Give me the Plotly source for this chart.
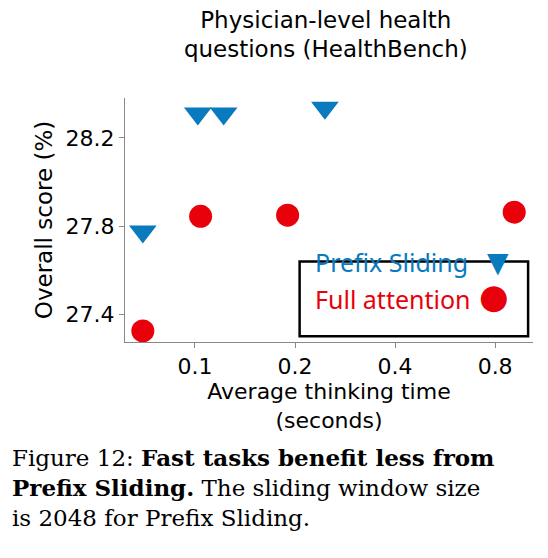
import plotly.graph_objects as go
import math

ps_x = [0.0697, 0.102, 0.122, 0.246]
ps_y = [27.777, 28.31, 28.31, 28.336]
fa_x = [0.0697, 0.104, 0.19, 0.913]
fa_y = [27.327, 27.845, 27.85, 27.864]
xticks = [0.1, 0.2, 0.4, 0.8]
yticks = [27.4, 27.8, 28.2]
blue = "#0a7abf"; red = "#e8000b"

fig = go.Figure()
fig.add_trace(go.Scatter(x=ps_x, y=ps_y, mode="markers", name="Prefix Sliding",
    marker=dict(symbol="triangle-down", size=24, color=blue)))
fig.add_trace(go.Scatter(x=fa_x, y=fa_y, mode="markers", name="Full attention",
    marker=dict(symbol="circle", size=23, color=red)))
fig.update_layout(
    width=548, height=558, showlegend=False, plot_bgcolor="white", paper_bgcolor="white",
    margin=dict(l=117, r=23, t=90, b=224, autoexpand=False),
    font=dict(family="DejaVu Sans", color="black"),
    title=dict(text="Physician-level health<br>questions (HealthBench)", x=0.58, xanchor="center",
               y=0.965, yanchor="top", font=dict(size=23)),
    xaxis=dict(type="log", range=[math.log10(0.0616), math.log10(1.04)], tickvals=xticks,
               ticktext=[str(v) for v in xticks], showgrid=False, showline=True, linecolor="#888",
               ticks="outside", ticklen=5, tickcolor="#888", tickfont=dict(size=22), automargin=False,
               title=dict(text="Average thinking time<br>(seconds)", font=dict(size=22), standoff=2)),
    yaxis=dict(range=[27.277, 28.38], tickvals=yticks, ticktext=[f"{v:.1f}" for v in yticks],
               showgrid=False, showline=True, linecolor="#888", ticks="outside", ticklen=5,
               tickcolor="#888", tickfont=dict(size=22), automargin=False,
               title=dict(text="Overall score (%)", font=dict(size=23), standoff=6)),
)
fig.add_shape(type="rect", xref="paper", yref="paper", x0=0.428, x1=0.988, y0=0.024, y1=0.33,
              line=dict(color="black", width=2.5), fillcolor="rgba(0,0,0,0)", layer="above")
fig.add_annotation(xref="paper", yref="paper", x=0.46, y=0.25, text="Prefix Sliding", showarrow=False,
                   xanchor="left", font=dict(family="Noto Sans", size=25, color=blue))
fig.add_annotation(xref="paper", yref="paper", x=0.46, y=0.1, text="Full attention", showarrow=False,
                   xanchor="left", font=dict(family="Noto Sans", size=25, color=red))
fig.add_annotation(xref="paper", yref="paper", x=0.945, y=0.25, text="▼", showarrow=False,
                   font=dict(size=28, color=blue))
fig.add_annotation(xref="paper", yref="paper", x=0.945, y=0.1, text="●", showarrow=False,
                   font=dict(size=34, color=red))
cap = ("Figure 12: <b>Fast tasks benefit less from</b><br><b>Prefix Sliding.</b> The sliding window size"
       "<br>is 2048 for Prefix Sliding.")
fig.add_annotation(xref="paper", yref="paper", x=-115/408, y=-0.41, xanchor="left", yanchor="top",
                   align="left", text=cap, showarrow=False,
                   font=dict(family="DejaVu Serif", size=23, color="black"))
fig.write_html("out.html")
